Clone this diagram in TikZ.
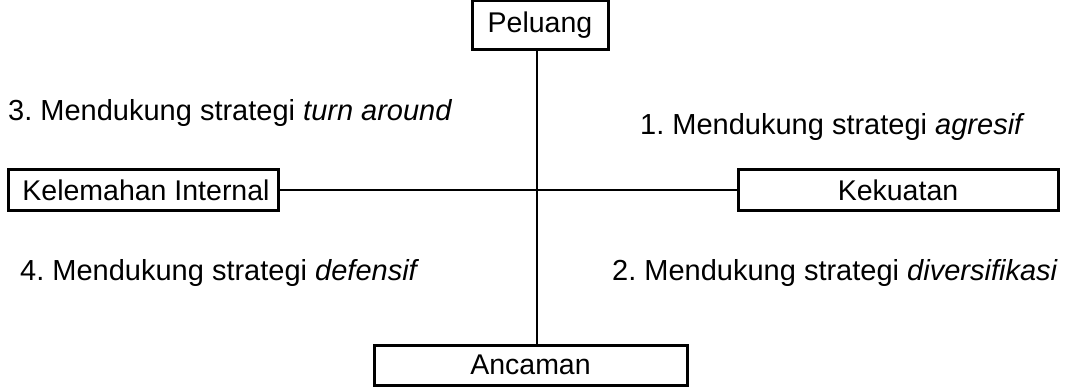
\documentclass[tikz,border=0pt]{standalone}
\usepackage{fontspec}
\setmainfont{Liberation Sans}
\frenchspacing
\begin{document}
\begin{tikzpicture}[x=1pt,y=-1pt,
  swotbox/.style={draw=black,line width=3pt,fill=white,inner sep=0pt,
    font=\fontsize{28.5}{33}\selectfont},
  link/.style={draw=black,line width=2pt},
  note/.style={anchor=west,inner sep=0pt,font=\fontsize{29}{34}\selectfont}]
  \useasboundingbox (0,0) rectangle (1078,387);
  % quadrant boxes
  \node[swotbox,minimum width=136pt,minimum height=49pt] (pel) at (540,25) {Peluang};
  \node[swotbox,minimum width=270pt,minimum height=41pt] (kel) at (143,190.5) {\hspace*{6pt}Kelemahan Internal};
  \node[swotbox,minimum width=320pt,minimum height=41pt] (kek) at (898,190.5) {Kekuatan};
  \node[swotbox,minimum width=313pt,minimum height=40pt] (anc) at (530.5,365) {Ancaman};
  % axes of the matrix
  \coordinate (mid) at (537,190.5);
  \draw[link] (kel.east) -- (kek.west);
  \draw[link] (pel.south -| mid) -- (anc.north -| mid);
  % strategy labels per quadrant
  \node[note] (s3) at (8,113) {3. Mendukung strategi \textit{turn around}};
  \node[note] (s1) at (640,127) {1. Mendukung strategi \textit{agresif}};
  \node[note] (s4) at (20,273) {4. Mendukung strategi \textit{defensif}};
  \node[note] (s2) at (612,273) {2. Mendukung strategi \textit{diversifikasi}};
\end{tikzpicture}
\end{document}
